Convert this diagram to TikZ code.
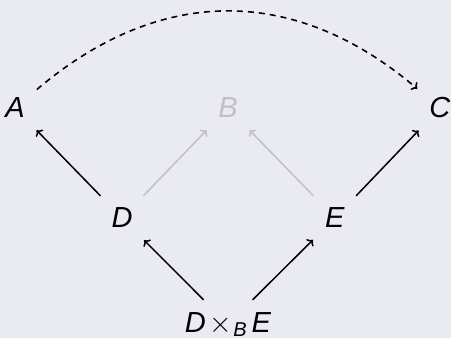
\documentclass[tikz,border=0pt]{standalone}
\usepackage{fontspec}
\usepackage{graphicx}
\setmainfont{Liberation Sans}
\usetikzlibrary{arrows.meta}
\definecolor{bg}{RGB}{234,234,243}
\definecolor{faint}{RGB}{192,192,198}
\newcommand{\sv}[1]{\textit{#1}}
\newcommand{\bigtimes}{{\fontsize{10}{12}\selectfont\scalebox{2.9}{$\times$}}}
\begin{document}
\begin{tikzpicture}[x=1pt,y=-1pt,
  obj/.style={font=\fontsize{29}{34}\selectfont, inner sep=12pt},
  arr/.style={-{To[length=5pt,width=10pt]}, line width=1.5pt},
  fade/.style={arr, draw=faint}]
\fill[bg] (0,0) rectangle (451,338);
\useasboundingbox (0,0) rectangle (451,338);
\node[obj] (A) at (15,108) {\sv{A}};
\node[obj,text=faint] (B) at (228,108) {\sv{B}};
\node[obj] (C) at (440,108) {\sv{C}};
\node[obj] (D) at (122,218) {\sv{D}};
\node[obj] (E) at (335,218) {\sv{E}};
\node[obj, anchor=base] (P) at (228,332) {\sv{D}\hspace{4pt}\bigtimes\hspace{1pt}\raisebox{-4.5pt}{\fontsize{20}{22}\selectfont\sv{B}}\hspace{5pt}\sv{E}};
\draw[arr] (D) -- (A);
\draw[fade] (D) -- (B);
\draw[fade] (E) -- (B);
\draw[arr] (E) -- (C);
\draw[arr] (P) -- (D);
\draw[arr] (P) -- (E);
\draw[arr, line width=1.6pt, dash pattern=on 6pt off 5pt] (A) .. controls (160,-15) and (295,-15) .. (C);
\end{tikzpicture}
\end{document}
